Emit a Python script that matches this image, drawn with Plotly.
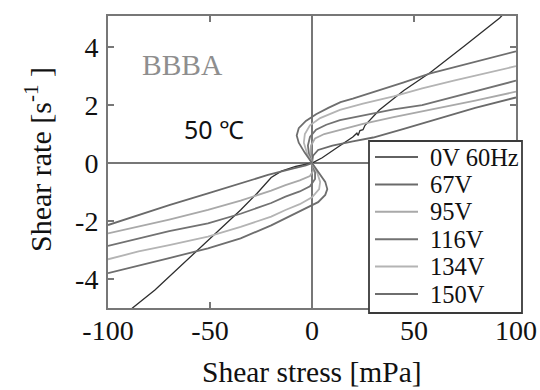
import plotly.graph_objects as go

# ---------------- data ----------------
series_names = ["0V 60Hz", "67V", "95V", "116V", "134V", "150V"]

x_0V = [-93, -88, -77, -65, -56, -45, -35, -27, -20, -15, -8, 0, 5, 12, 20, 22, 22.6, 23.5, 25, 26, 33, 45, 58, 75, 92, 94]
y_0V = [-5.35, -5.0, -4.38, -3.6, -3.0, -2.3, -1.62, -1.05, -0.5, -0.28, -0.12, 0, 0.18, 0.52, 0.9, 1.03, 0.95, 1.12, 1.15, 1.3, 1.83, 2.5, 3.12, 4.05, 5.0, 5.15]

x_67V = [-100, -85, -70, -51, -35, -21.6, -10, -3, 0, 0.5, 3, 10, 20, 30, 45, 62.7, 80, 100]
y_67V = [-2.14, -1.8, -1.45, -1.05, -0.7, -0.41, -0.2, -0.08, 0, 0.25, 0.45, 0.6, 0.75, 0.88, 1.18, 1.54, 1.9, 2.26]

x_95V = [-100, -85, -70, -51, -35, -20, -13, -6, -1, 0.8, 0, -0.8, -0.5, 1.5, 6, 13.7, 25, 40, 62.7, 80, 100]
y_95V = [-2.43, -2.2, -1.95, -1.62, -1.3, -0.95, -0.76, -0.6, -0.45, -0.25, 0, 0.3, 0.6, 0.85, 1.0, 1.14, 1.35, 1.58, 1.89, 2.15, 2.46]

x_116V = [-100, -85, -70, -51, -35, -20, -13, -6, -1, 1.5, 1.5, 0, -1.5, -2, -1, 2, 7, 13.7, 25, 40, 54, 70, 85, 100]
y_116V = [-2.86, -2.6, -2.35, -2.08, -1.75, -1.38, -1.16, -0.98, -0.8, -0.55, -0.3, 0, 0.3, 0.6, 0.9, 1.15, 1.32, 1.48, 1.65, 1.85, 2.0, 2.3, 2.58, 2.84]

x_134V = [-100, -85, -70, -51, -35, -20, -13, -6, 0, 3.5, 4, 2.5, 0, -2.5, -4, -3.5, -1, 4, 13.7, 25, 40, 54, 70, 85, 100]
y_134V = [-3.32, -3.05, -2.83, -2.54, -2.2, -1.85, -1.62, -1.42, -1.18, -0.9, -0.65, -0.33, 0, 0.35, 0.7, 1.0, 1.3, 1.55, 1.83, 2.05, 2.3, 2.57, 2.85, 3.1, 3.34]

x_150V = [-100, -85, -70, -51, -35, -20, -13, -7, -2, 3, 6.5, 7.5, 6.5, 3.5, 0, -3.5, -6.5, -7.5, -6.5, -3, 2, 8, 14, 20, 33, 45, 58, 70, 85, 100]
y_150V = [-3.8, -3.55, -3.28, -2.94, -2.6, -2.15, -1.91, -1.72, -1.55, -1.35, -1.1, -0.9, -0.65, -0.33, 0, 0.35, 0.7, 0.95, 1.2, 1.45, 1.68, 1.9, 2.1, 2.22, 2.5, 2.78, 3.09, 3.3, 3.58, 3.85]

x_tickvals = [-100, -50, 0, 50, 100]
x_ticktext = ["-100", "-50", "0", "50", "100"]
y_tickvals = [-4, -2, 0, 2, 4]
y_ticktext = ["-4", "-2", "0", "2", "4"]

# ---------------- style ----------------
colors = ["#2e2e2e", "#6a6a6a", "#a9a9a9", "#727272", "#b4b4b4", "#6e6e6e"]
widths = [1.3, 1.8, 1.8, 1.8, 1.8, 1.8]
W, H = 540, 390
ML, MR, MT, MB = 108, 24, 16, 82
PW, PH = W - ML - MR, H - MT - MB
SERIF = "Liberation Serif, Times New Roman, serif"
AXC = "#777777"

def px2paper(px, py):
    return (px - ML) / PW, (H - MB - py) / PH

xs = [x_0V, x_67V, x_95V, x_116V, x_134V, x_150V]
ys = [y_0V, y_67V, y_95V, y_116V, y_134V, y_150V]

fig = go.Figure()
for name, xv, yv, c, w in zip(series_names, xs, ys, colors, widths):
    fig.add_trace(go.Scatter(x=xv, y=yv, mode="lines", name=name,
                             line=dict(color=c, width=w), showlegend=False))

# manual legend (plotly legend rows are too tall for this font size)
bx0, by1 = px2paper(369, 141)
bx1, by0 = px2paper(522, 313)
shapes = [dict(type="rect", xref="paper", yref="paper", x0=bx0, x1=bx1, y0=by0, y1=by1,
               line=dict(color="#3a3a3a", width=1.8), fillcolor="white", layer="above")]
annotations = []
for i, (name, c, w) in enumerate(zip(series_names, colors, widths)):
    py = 157 + i * 27.4
    lx0, ly = px2paper(375, py)
    lx1, _ = px2paper(418, py)
    tx, _ = px2paper(428, py)
    shapes.append(dict(type="line", xref="paper", yref="paper", x0=lx0, x1=lx1, y0=ly, y1=ly,
                       line=dict(color=c, width=w + 0.2), layer="above"))
    annotations.append(dict(xref="paper", yref="paper", x=tx, y=ly, text=name, showarrow=False,
                            xanchor="left", yanchor="middle",
                            font=dict(family=SERIF, size=24.5, color="#111111")))

annotations.append(dict(x=-63.7, y=3.38, xref="x", yref="y", text="BBBA", showarrow=False,
                        font=dict(family=SERIF, size=29.5, color="#8e8e8e")))
annotations.append(dict(x=-47.8, y=1.17, xref="x", yref="y", text="50 ℃", showarrow=False,
                        font=dict(family="Noto Sans, DejaVu Sans, sans-serif", size=25, color="#111111")))

# axis titles as annotations (keeps the plot area fixed)
tx_x, tx_y = px2paper(312, 390)
annotations.append(dict(xref="paper", yref="paper", x=tx_x, y=tx_y, text="Shear stress [mPa]",
                        showarrow=False, xanchor="center", yanchor="bottom",
                        font=dict(family=SERIF, size=29.5, color="#111111")))
ty_x, ty_y = px2paper(38, 160)
annotations.append(dict(xref="paper", yref="paper", x=ty_x, y=ty_y, text="Shear rate [s<sup>-1</sup> ]",
                        showarrow=False, xanchor="center", yanchor="middle", textangle=-90,
                        font=dict(family=SERIF, size=30, color="#111111")))

fig.update_layout(
    width=W, height=H,
    margin=dict(l=ML, r=MR, t=MT, b=MB, autoexpand=False),
    paper_bgcolor="white", plot_bgcolor="white",
    shapes=shapes, annotations=annotations,
    font=dict(family=SERIF, color="#111111"),
    xaxis=dict(range=[-100, 100], tickvals=x_tickvals, ticktext=x_ticktext,
               ticks="inside", ticklen=6, tickwidth=1.5, tickcolor=AXC,
               showline=True, linecolor=AXC, linewidth=2, mirror="ticks",
               showgrid=False, zeroline=True, zerolinecolor=AXC, zerolinewidth=2,
               tickfont=dict(family=SERIF, size=28, color="#111111"),
               ticklabelstandoff=-4, automargin=False),
    yaxis=dict(range=[-5.0, 5.07], tickvals=y_tickvals, ticktext=y_ticktext,
               ticks="inside", ticklen=6, tickwidth=1.5, tickcolor=AXC,
               showline=True, linecolor=AXC, linewidth=2, mirror="ticks",
               showgrid=False, zeroline=True, zerolinecolor=AXC, zerolinewidth=2,
               tickfont=dict(family=SERIF, size=28, color="#111111"),
               ticklabelstandoff=2, automargin=False),
)

fig.write_html("out.html")
